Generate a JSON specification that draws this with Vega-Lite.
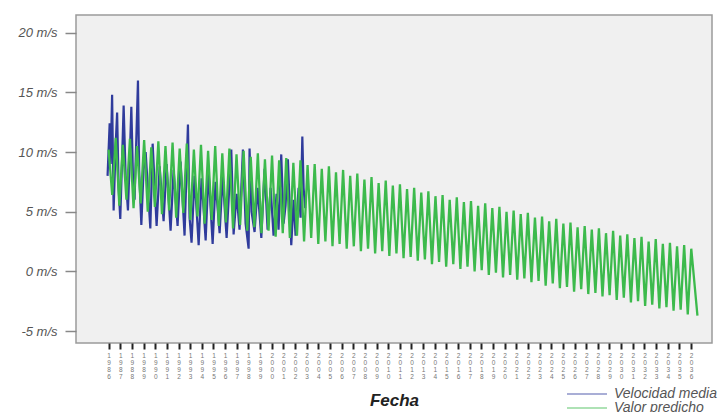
{
"$schema": "https://vega.github.io/schema/vega-lite/v6.json",
"width": 636, "height": 328,
"autosize": "none",
"padding": {"left": 76, "top": 15, "right": 14, "bottom": 69},
"background": "white",
"config": {"view": {"fill": "#f0f0f0", "stroke": "#9a9a9a", "strokeWidth": 1.5}, "font": "Liberation Sans"},
"data": {"values": [
{"serie":"Velocidad media","t":1985.91,"v":8.0},
{"serie":"Velocidad media","t":1986.09,"v":12.4},
{"serie":"Velocidad media","t":1986.17,"v":9.0},
{"serie":"Velocidad media","t":1986.30,"v":14.8},
{"serie":"Velocidad media","t":1986.43,"v":5.1},
{"serie":"Velocidad media","t":1986.60,"v":10.5},
{"serie":"Velocidad media","t":1986.73,"v":13.3},
{"serie":"Velocidad media","t":1986.86,"v":7.0},
{"serie":"Velocidad media","t":1987.00,"v":4.4},
{"serie":"Velocidad media","t":1987.16,"v":9.5},
{"serie":"Velocidad media","t":1987.29,"v":13.9},
{"serie":"Velocidad media","t":1987.46,"v":8.0},
{"serie":"Velocidad media","t":1987.66,"v":5.1},
{"serie":"Velocidad media","t":1987.80,"v":9.0},
{"serie":"Velocidad media","t":1987.95,"v":13.8},
{"serie":"Velocidad media","t":1988.10,"v":7.5},
{"serie":"Velocidad media","t":1988.23,"v":6.0},
{"serie":"Velocidad media","t":1988.52,"v":16.0},
{"serie":"Velocidad media","t":1988.62,"v":8.5},
{"serie":"Velocidad media","t":1988.81,"v":3.9},
{"serie":"Velocidad media","t":1989.00,"v":8.5},
{"serie":"Velocidad media","t":1989.18,"v":10.0},
{"serie":"Velocidad media","t":1989.58,"v":3.6},
{"serie":"Velocidad media","t":1989.78,"v":10.7},
{"serie":"Velocidad media","t":1990.12,"v":3.8},
{"serie":"Velocidad media","t":1990.38,"v":8.8},
{"serie":"Velocidad media","t":1990.72,"v":4.2},
{"serie":"Velocidad media","t":1990.98,"v":9.0},
{"serie":"Velocidad media","t":1991.32,"v":3.4},
{"serie":"Velocidad media","t":1991.58,"v":8.5},
{"serie":"Velocidad media","t":1991.92,"v":3.8},
{"serie":"Velocidad media","t":1992.18,"v":9.2},
{"serie":"Velocidad media","t":1992.52,"v":3.0},
{"serie":"Velocidad media","t":1992.81,"v":12.3},
{"serie":"Velocidad media","t":1992.95,"v":4.5},
{"serie":"Velocidad media","t":1993.12,"v":2.4},
{"serie":"Velocidad media","t":1993.38,"v":8.0},
{"serie":"Velocidad media","t":1993.73,"v":2.2},
{"serie":"Velocidad media","t":1993.98,"v":7.8},
{"serie":"Velocidad media","t":1994.33,"v":2.6},
{"serie":"Velocidad media","t":1994.58,"v":8.4},
{"serie":"Velocidad media","t":1994.93,"v":2.3},
{"serie":"Velocidad media","t":1995.18,"v":7.5},
{"serie":"Velocidad media","t":1995.53,"v":3.2},
{"serie":"Velocidad media","t":1995.79,"v":8.0},
{"serie":"Velocidad media","t":1996.13,"v":2.8},
{"serie":"Velocidad media","t":1996.53,"v":10.2},
{"serie":"Velocidad media","t":1996.73,"v":3.1},
{"serie":"Velocidad media","t":1996.99,"v":6.5},
{"serie":"Velocidad media","t":1997.24,"v":3.5},
{"serie":"Velocidad media","t":1997.53,"v":10.2},
{"serie":"Velocidad media","t":1997.76,"v":4.0},
{"serie":"Velocidad media","t":1998.02,"v":1.9},
{"serie":"Velocidad media","t":1998.10,"v":10.3},
{"serie":"Velocidad media","t":1998.27,"v":5.0},
{"serie":"Velocidad media","t":1998.53,"v":3.3},
{"serie":"Velocidad media","t":1998.79,"v":7.0},
{"serie":"Velocidad media","t":1999.11,"v":2.8},
{"serie":"Velocidad media","t":1999.39,"v":8.6},
{"serie":"Velocidad media","t":1999.65,"v":3.5},
{"serie":"Velocidad media","t":1999.91,"v":7.0},
{"serie":"Velocidad media","t":2000.16,"v":3.0},
{"serie":"Velocidad media","t":2000.42,"v":6.5},
{"serie":"Velocidad media","t":2000.59,"v":3.5},
{"serie":"Velocidad media","t":2000.82,"v":9.8},
{"serie":"Velocidad media","t":2001.02,"v":4.0},
{"serie":"Velocidad media","t":2001.19,"v":5.5},
{"serie":"Velocidad media","t":2001.39,"v":9.4},
{"serie":"Velocidad media","t":2001.68,"v":2.2},
{"serie":"Velocidad media","t":2001.88,"v":6.0},
{"serie":"Velocidad media","t":2002.05,"v":3.0},
{"serie":"Velocidad media","t":2002.31,"v":7.0},
{"serie":"Velocidad media","t":2002.48,"v":4.5},
{"serie":"Velocidad media","t":2002.63,"v":11.3},
{"serie":"Velocidad media","t":2002.74,"v":7.0},
{"serie":"Velocidad media","t":2002.87,"v":5.3},
{"serie":"Valor predicho","t":1986.00,"v":10.2},{"serie":"Valor predicho","t":1986.31,"v":6.4},
{"serie":"Valor predicho","t":1986.61,"v":11.2},{"serie":"Valor predicho","t":1986.92,"v":5.5},
{"serie":"Valor predicho","t":1987.22,"v":10.6},{"serie":"Valor predicho","t":1987.53,"v":6.0},
{"serie":"Valor predicho","t":1987.83,"v":11.1},{"serie":"Valor predicho","t":1988.14,"v":5.3},
{"serie":"Valor predicho","t":1988.44,"v":10.5},{"serie":"Valor predicho","t":1988.75,"v":5.7},
{"serie":"Valor predicho","t":1989.05,"v":11.0},{"serie":"Valor predicho","t":1989.36,"v":5.0},
{"serie":"Valor predicho","t":1989.66,"v":10.4},{"serie":"Valor predicho","t":1989.97,"v":5.4},
{"serie":"Valor predicho","t":1990.27,"v":10.9},{"serie":"Valor predicho","t":1990.58,"v":4.8},
{"serie":"Valor predicho","t":1990.88,"v":10.5},{"serie":"Valor predicho","t":1991.19,"v":5.1},
{"serie":"Valor predicho","t":1991.49,"v":10.8},{"serie":"Valor predicho","t":1991.80,"v":4.5},
{"serie":"Valor predicho","t":1992.10,"v":10.3},{"serie":"Valor predicho","t":1992.41,"v":4.9},
{"serie":"Valor predicho","t":1992.71,"v":10.7},{"serie":"Valor predicho","t":1993.02,"v":4.3},
{"serie":"Valor predicho","t":1993.32,"v":10.2},{"serie":"Valor predicho","t":1993.63,"v":4.6},
{"serie":"Valor predicho","t":1993.93,"v":10.6},{"serie":"Valor predicho","t":1994.24,"v":4.0},
{"serie":"Valor predicho","t":1994.54,"v":10.1},{"serie":"Valor predicho","t":1994.85,"v":4.3},
{"serie":"Valor predicho","t":1995.15,"v":10.5},{"serie":"Valor predicho","t":1995.46,"v":3.8},
{"serie":"Valor predicho","t":1995.76,"v":9.9},{"serie":"Valor predicho","t":1996.07,"v":4.1},
{"serie":"Valor predicho","t":1996.37,"v":10.3},{"serie":"Valor predicho","t":1996.68,"v":3.6},
{"serie":"Valor predicho","t":1996.98,"v":9.8},{"serie":"Valor predicho","t":1997.29,"v":3.9},
{"serie":"Valor predicho","t":1997.59,"v":10.1},{"serie":"Valor predicho","t":1997.90,"v":3.4},
{"serie":"Valor predicho","t":1998.20,"v":9.6},{"serie":"Valor predicho","t":1998.51,"v":3.7},
{"serie":"Valor predicho","t":1998.81,"v":9.9},{"serie":"Valor predicho","t":1999.12,"v":3.2},
{"serie":"Valor predicho","t":1999.42,"v":9.4},{"serie":"Valor predicho","t":1999.73,"v":3.4},
{"serie":"Valor predicho","t":2000.03,"v":9.7},{"serie":"Valor predicho","t":2000.34,"v":2.9},
{"serie":"Valor predicho","t":2000.64,"v":9.3},{"serie":"Valor predicho","t":2000.95,"v":3.2},
{"serie":"Valor predicho","t":2001.25,"v":9.5},{"serie":"Valor predicho","t":2001.56,"v":2.8},
{"serie":"Valor predicho","t":2001.86,"v":9.1},{"serie":"Valor predicho","t":2002.17,"v":3.0},
{"serie":"Valor predicho","t":2002.47,"v":9.3},{"serie":"Valor predicho","t":2002.78,"v":2.5},
{"serie":"Valor predicho","t":2003.08,"v":8.9},{"serie":"Valor predicho","t":2003.39,"v":2.8},
{"serie":"Valor predicho","t":2003.69,"v":9.0},{"serie":"Valor predicho","t":2004.00,"v":2.3},
{"serie":"Valor predicho","t":2004.30,"v":8.6},{"serie":"Valor predicho","t":2004.61,"v":2.5},
{"serie":"Valor predicho","t":2004.91,"v":8.8},{"serie":"Valor predicho","t":2005.22,"v":2.1},
{"serie":"Valor predicho","t":2005.52,"v":8.3},{"serie":"Valor predicho","t":2005.83,"v":2.3},
{"serie":"Valor predicho","t":2006.13,"v":8.5},{"serie":"Valor predicho","t":2006.44,"v":1.9},
{"serie":"Valor predicho","t":2006.74,"v":8.0},{"serie":"Valor predicho","t":2007.05,"v":2.1},
{"serie":"Valor predicho","t":2007.35,"v":8.2},{"serie":"Valor predicho","t":2007.66,"v":1.7},
{"serie":"Valor predicho","t":2007.96,"v":7.7},{"serie":"Valor predicho","t":2008.27,"v":1.9},
{"serie":"Valor predicho","t":2008.57,"v":7.9},{"serie":"Valor predicho","t":2008.88,"v":1.5},
{"serie":"Valor predicho","t":2009.18,"v":7.4},{"serie":"Valor predicho","t":2009.49,"v":1.7},
{"serie":"Valor predicho","t":2009.79,"v":7.6},{"serie":"Valor predicho","t":2010.10,"v":1.3},
{"serie":"Valor predicho","t":2010.40,"v":7.2},{"serie":"Valor predicho","t":2010.71,"v":1.5},
{"serie":"Valor predicho","t":2011.01,"v":7.3},{"serie":"Valor predicho","t":2011.32,"v":1.1},
{"serie":"Valor predicho","t":2011.62,"v":6.9},{"serie":"Valor predicho","t":2011.93,"v":1.2},
{"serie":"Valor predicho","t":2012.23,"v":7.0},{"serie":"Valor predicho","t":2012.54,"v":0.9},
{"serie":"Valor predicho","t":2012.84,"v":6.6},{"serie":"Valor predicho","t":2013.15,"v":1.0},
{"serie":"Valor predicho","t":2013.45,"v":6.7},{"serie":"Valor predicho","t":2013.76,"v":0.6},
{"serie":"Valor predicho","t":2014.06,"v":6.3},{"serie":"Valor predicho","t":2014.37,"v":0.8},
{"serie":"Valor predicho","t":2014.67,"v":6.4},{"serie":"Valor predicho","t":2014.98,"v":0.4},
{"serie":"Valor predicho","t":2015.28,"v":6.0},{"serie":"Valor predicho","t":2015.59,"v":0.6},
{"serie":"Valor predicho","t":2015.89,"v":6.2},{"serie":"Valor predicho","t":2016.20,"v":0.2},
{"serie":"Valor predicho","t":2016.50,"v":5.8},{"serie":"Valor predicho","t":2016.81,"v":0.4},
{"serie":"Valor predicho","t":2017.11,"v":5.9},{"serie":"Valor predicho","t":2017.42,"v":0.0},
{"serie":"Valor predicho","t":2017.72,"v":5.5},{"serie":"Valor predicho","t":2018.03,"v":0.1},
{"serie":"Valor predicho","t":2018.33,"v":5.7},{"serie":"Valor predicho","t":2018.64,"v":-0.3},
{"serie":"Valor predicho","t":2018.94,"v":5.3},{"serie":"Valor predicho","t":2019.25,"v":-0.1},
{"serie":"Valor predicho","t":2019.55,"v":5.4},{"serie":"Valor predicho","t":2019.86,"v":-0.5},
{"serie":"Valor predicho","t":2020.16,"v":5.0},{"serie":"Valor predicho","t":2020.47,"v":-0.3},
{"serie":"Valor predicho","t":2020.77,"v":5.1},{"serie":"Valor predicho","t":2021.08,"v":-0.7},
{"serie":"Valor predicho","t":2021.38,"v":4.8},{"serie":"Valor predicho","t":2021.69,"v":-0.6},
{"serie":"Valor predicho","t":2021.99,"v":4.9},{"serie":"Valor predicho","t":2022.30,"v":-0.9},
{"serie":"Valor predicho","t":2022.60,"v":4.5},{"serie":"Valor predicho","t":2022.91,"v":-0.8},
{"serie":"Valor predicho","t":2023.21,"v":4.6},{"serie":"Valor predicho","t":2023.52,"v":-1.2},
{"serie":"Valor predicho","t":2023.82,"v":4.2},{"serie":"Valor predicho","t":2024.13,"v":-1.0},
{"serie":"Valor predicho","t":2024.43,"v":4.4},{"serie":"Valor predicho","t":2024.74,"v":-1.4},
{"serie":"Valor predicho","t":2025.04,"v":4.0},{"serie":"Valor predicho","t":2025.35,"v":-1.3},
{"serie":"Valor predicho","t":2025.65,"v":4.1},{"serie":"Valor predicho","t":2025.96,"v":-1.7},
{"serie":"Valor predicho","t":2026.26,"v":3.7},{"serie":"Valor predicho","t":2026.57,"v":-1.5},
{"serie":"Valor predicho","t":2026.87,"v":3.8},{"serie":"Valor predicho","t":2027.18,"v":-1.9},
{"serie":"Valor predicho","t":2027.48,"v":3.5},{"serie":"Valor predicho","t":2027.79,"v":-1.8},
{"serie":"Valor predicho","t":2028.09,"v":3.6},{"serie":"Valor predicho","t":2028.40,"v":-2.1},
{"serie":"Valor predicho","t":2028.70,"v":3.2},{"serie":"Valor predicho","t":2029.01,"v":-2.0},
{"serie":"Valor predicho","t":2029.31,"v":3.4},{"serie":"Valor predicho","t":2029.62,"v":-2.4},
{"serie":"Valor predicho","t":2029.92,"v":3.0},{"serie":"Valor predicho","t":2030.23,"v":-2.2},
{"serie":"Valor predicho","t":2030.53,"v":3.1},{"serie":"Valor predicho","t":2030.84,"v":-2.6},
{"serie":"Valor predicho","t":2031.14,"v":2.8},{"serie":"Valor predicho","t":2031.45,"v":-2.5},
{"serie":"Valor predicho","t":2031.75,"v":2.9},{"serie":"Valor predicho","t":2032.06,"v":-2.9},
{"serie":"Valor predicho","t":2032.36,"v":2.5},{"serie":"Valor predicho","t":2032.67,"v":-2.8},
{"serie":"Valor predicho","t":2032.97,"v":2.7},{"serie":"Valor predicho","t":2033.28,"v":-3.1},
{"serie":"Valor predicho","t":2033.58,"v":2.3},{"serie":"Valor predicho","t":2033.89,"v":-3.0},
{"serie":"Valor predicho","t":2034.19,"v":2.4},{"serie":"Valor predicho","t":2034.50,"v":-3.3},
{"serie":"Valor predicho","t":2034.80,"v":2.1},{"serie":"Valor predicho","t":2035.11,"v":-3.2},
{"serie":"Valor predicho","t":2035.41,"v":2.2},{"serie":"Valor predicho","t":2035.72,"v":-3.6},
{"serie":"Valor predicho","t":2036.02,"v":1.9},{"serie":"Valor predicho","t":2036.55,"v":-3.7}
]},
"encoding": {
  "x": {"field": "t", "type": "quantitative",
        "scale": {"domain": [1983.2, 2037.8], "nice": false, "zero": false},
        "axis": {"values": [1986,1987,1988,1989,1990,1991,1992,1993,1994,1995,1996,1997,1998,1999,2000,2001,2002,2003,2004,2005,2006,2007,2008,2009,2010,2011,2012,2013,2014,2015,2016,2017,2018,2019,2020,2021,2022,2023,2024,2025,2026,2027,2028,2029,2030,2031,2032,2033,2034,2035,2036],
                 "labelExpr": "split(toString(datum.value), '')",
                 "labelFontSize": 6.5, "labelLineHeight": 7.3, "labelColor": "#777777",
                 "labelAngle": 0, "labelPadding": 3, "labelOverlap": false, "labelFlush": false,
                 "tickSize": 6, "tickWidth": 2, "tickColor": "#222222",
                 "domain": false, "grid": false,
                 "title": "Fecha", "titleFontSize": 17, "titleFontStyle": "italic", "titleFontWeight": "bold",
                 "titleColor": "#222222", "titlePadding": 12}},
  "y": {"field": "v", "type": "quantitative",
        "scale": {"domain": [-6.0, 21.48], "nice": false, "zero": false},
        "axis": {"values": [-5, 0, 5, 10, 15, 20],
                 "labelExpr": "datum.value + ' m/s'",
                 "labelFontSize": 13, "labelFontStyle": "italic", "labelColor": "#555555",
                 "tickSize": 11, "tickWidth": 1.5, "tickColor": "#888888", "labelPadding": 8,
                 "domain": false, "grid": false, "title": null}},
  "color": {"field": "serie", "type": "nominal",
            "scale": {"domain": ["Velocidad media", "Valor predicho"], "range": ["#2f3b9c", "#3cba4c"]},
            "legend": {"title": null, "orient": "none", "legendX": 490, "legendY": 372,
                       "symbolType": "stroke", "symbolSize": 1600, "symbolStrokeWidth": 1.5, "symbolOpacity": 0.55,
                       "labelFontSize": 14, "labelFontStyle": "italic", "labelColor": "#555555",
                       "labelLimit": 400, "rowPadding": 0, "clipHeight": 14, "labelOffset": 6}}
},
"layer": [
  {"transform": [{"filter": "datum.serie == 'Velocidad media'"}], "mark": {"type": "line", "strokeWidth": 2.2}},
  {"transform": [{"filter": "datum.serie == 'Valor predicho'"}], "mark": {"type": "line", "strokeWidth": 2.3}}
]
}
